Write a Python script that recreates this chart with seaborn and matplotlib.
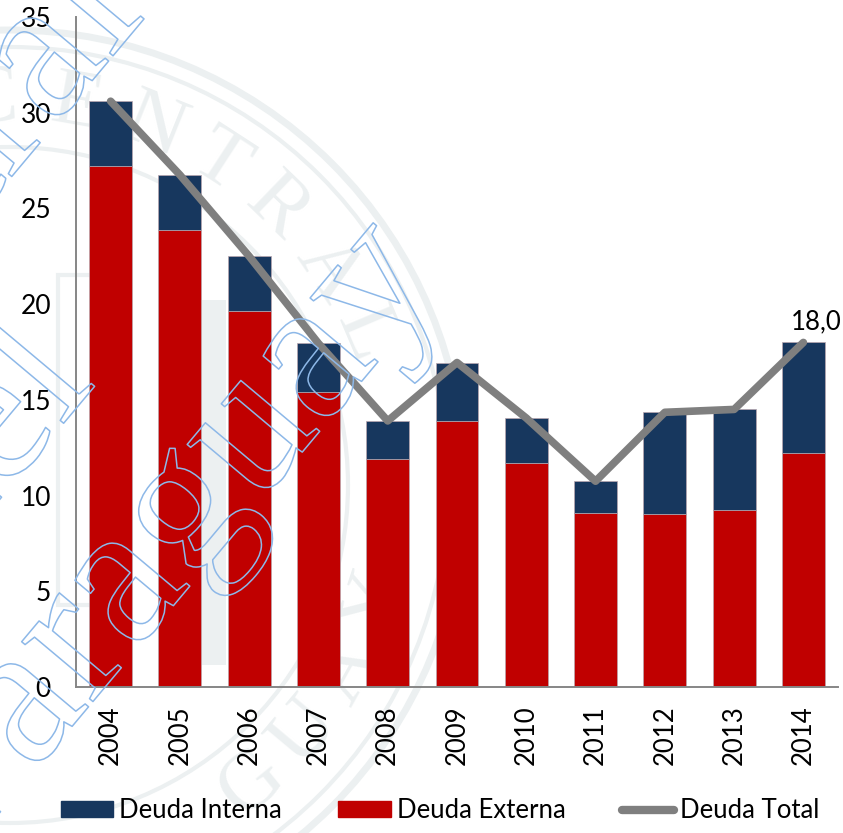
import matplotlib
matplotlib.use("Agg")
import matplotlib.pyplot as plt
import matplotlib.patheffects as pe
from matplotlib.lines import Line2D
from matplotlib.patches import Patch, Circle, Rectangle
import numpy as np
import pandas as pd
import seaborn as sns

years = ["2004","2005","2006","2007","2008","2009","2010","2011","2012","2013","2014"]
externa = [27.2,23.85,19.65,15.4,11.9,13.9,11.7,9.1,9.05,9.25,12.25]
interna = [3.4,2.9,2.85,2.55,2.0,3.05,2.35,1.65,5.3,5.25,5.75]
total = [30.6,26.75,22.5,17.95,13.9,16.95,14.05,10.75,14.35,14.5,18.0]
label_last = "18,0"
y_ticks = [0,5,10,15,20,25,30,35]

RED="#C00000"; NAVY="#17375E"; GRAY="#7F7F7F"; AXIS="#868686"; SEAL="#ECF0F1"; BLUE="#8DB8E8"
sns.set_theme(style="white")
plt.rcParams['font.family']=['Lato','DejaVu Sans']
fig=plt.figure(figsize=(8.43,8.33),dpi=100)

# background seal, in pixel coordinates of the page
bg=fig.add_axes([0,0,1,1],zorder=0)
bg.set_xlim(0,843); bg.set_ylim(833,0); bg.axis("off")
cx,cy=10,485
for r,w in [(455,5),(438,3),(338,3)]:
    bg.add_patch(Circle((cx,cy),r,fill=False,ec=SEAL,lw=w))
bg.add_patch(Rectangle((202,300),24,365,fc=SEAL,ec="none"))
bg.add_patch(Rectangle((58,275),70,330,fill=False,ec=SEAL,lw=3))
def seal_letter(ch,deg,r=385,bottom=False):
    a=np.radians(deg)
    x=cx+r*np.sin(a); y=cy-r*np.cos(a)
    rot=(-deg) if not bottom else (180-deg)
    bg.text(x,y,ch,rotation=rot,rotation_mode="anchor",ha="center",va="center",fontsize=60,
            color=SEAL,family="Liberation Serif")
for ch,d in zip("CENTRAL",[-3,10,22,33,44,56,67]):
    seal_letter(ch,d)
for ch,d in zip("GUAY",[141,130,119,108]):
    seal_letter(ch,d,bottom=True)

ax=fig.add_axes([76/843,1-687/833,(838-76)/843,(687-17)/833],zorder=1)
ax.patch.set_visible(False)
df=pd.DataFrame({"year":years,"externa":externa,"interna":interna,"total":total})
bar_kw=dict(width=0.62,saturation=1,ax=ax,zorder=2,linewidth=0.5,edgecolor="#B9A6AE")
sns.barplot(data=df,x="year",y="externa",color=RED,**bar_kw)
sns.barplot(data=df,x="year",y="interna",bottom=df["externa"],color=NAVY,**bar_kw)
sns.lineplot(data=df,x="year",y="total",color=GRAY,lw=5.5,ax=ax,zorder=3,sort=False,solid_capstyle="round")
ax.set_xlim(-0.5,10.5); ax.set_ylim(0,35)
ax.set_yticks(y_ticks)
ax.set_xticks(np.arange(-0.5,11,1),minor=True)
ax.tick_params(axis='x',which='major',length=0,pad=13,labelsize=18.5,labelrotation=90,labelcolor="black")
ax.tick_params(axis='x',which='minor',length=6,width=1.2,direction='out',color=AXIS)
ax.tick_params(axis='y',length=6,width=1.2,direction='out',color=AXIS,labelsize=19,pad=12,labelcolor="black")
ax.set_xlabel(""); ax.set_ylabel("")
for s in ["top","right"]: ax.spines[s].set_visible(False)
for s in ["left","bottom"]:
    ax.spines[s].set_color(AXIS); ax.spines[s].set_linewidth(1.4)
ax.annotate(label_last,(10,total[-1]),xytext=(-9,6),textcoords="offset points",fontsize=18.5,color="black",va="bottom",ha="left",annotation_clip=False)
handles=[Patch(color=NAVY,label="Deuda Interna"),Patch(color=RED,label="Deuda Externa"),Line2D([],[],color=GRAY,lw=6,label="Deuda Total")]
fig.legend(handles=handles,loc="lower center",bbox_to_anchor=(0.522,-0.016),ncol=3,frameon=False,fontsize=18.5,
           handlelength=2.05,handleheight=0.62,handletextpad=0.22,columnspacing=2.2,labelcolor="black")

# diagonal outlined watermark
def outline(s,px,py,size=146,rot=50):
    t=fig.text(px/843,1-py/833,s,fontsize=size,rotation=rot,rotation_mode="anchor",ha="left",va="baseline",
             color=(0,0,0,0),family="Liberation Serif",zorder=6)
    t.set_path_effects([pe.Stroke(linewidth=1.1,foreground=BLUE)])
outline("Paraguay",-40,860)
outline("del",-62,573)
outline("Central",-237,473)
fig.savefig("out.png",dpi=100)
